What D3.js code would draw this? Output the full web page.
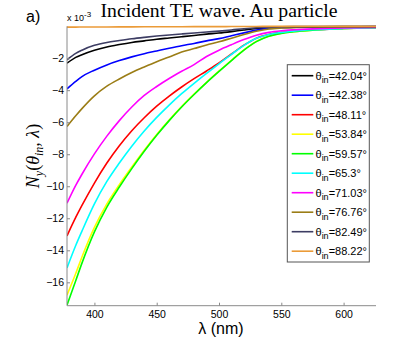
<!DOCTYPE html>
<html>
<head>
<meta charset="utf-8">
<script src="https://cdn.jsdelivr.net/npm/d3@7"></script>
<style>
  html, body { margin: 0; padding: 0; background: #fff; }
  svg { display: block; }
  .tick text { font-family: "Liberation Sans", Arial, sans-serif; font-size: 10.5px; fill: #000; }
</style>
</head>
<body>
<svg id="chart" width="415" height="344"></svg>
<script>
// wavelength samples (nm)
const lambda = [378, 385, 390, 400, 410, 420, 430, 440, 450, 460, 470, 480, 490, 500, 510, 520, 530, 540, 550, 560, 575, 600, 626];

// N_y values, units of 1e-3, one array per incidence angle
const ny42_04 = [-2.31, -1.95, -1.78, -1.5, -1.3, -1.15, -1.02, -0.92, -0.82, -0.74, -0.66, -0.58, -0.5, -0.43, -0.34, -0.24, -0.15, -0.09, -0.06, -0.05, -0.04, -0.03, -0.03];
const ny42_38 = [-3.92, -3.45, -3.15, -2.75, -2.42, -2.15, -1.92, -1.72, -1.55, -1.38, -1.22, -1.08, -0.92, -0.78, -0.6, -0.42, -0.25, -0.14, -0.09, -0.07, -0.05, -0.04, -0.03];
const ny48_11 = [-13.1, -11.95, -11.2, -9.8, -8.55, -7.47, -6.53, -5.72, -5.0, -4.37, -3.8, -3.28, -2.8, -2.3, -1.74, -1.19, -0.75, -0.52, -0.39, -0.31, -0.23, -0.15, -0.1];
const ny53_84 = [-16.8, -15.45, -14.42, -12.57, -11.1, -9.9, -8.8, -7.75, -6.77, -5.87, -5.03, -4.25, -3.51, -2.81, -2.13, -1.48, -0.95, -0.62, -0.44, -0.35, -0.25, -0.15, -0.1];
const ny59_57 = [-17.42, -15.9, -14.8, -12.85, -11.3, -10.05, -8.9, -7.82, -6.82, -5.9, -5.05, -4.27, -3.53, -2.83, -2.15, -1.5, -0.97, -0.63, -0.45, -0.35, -0.25, -0.15, -0.1];
const ny65_30 = [-15.1, -13.7, -12.8, -11.1, -9.7, -8.55, -7.5, -6.55, -5.7, -4.93, -4.22, -3.57, -2.95, -2.35, -1.76, -1.2, -0.76, -0.52, -0.39, -0.31, -0.23, -0.15, -0.1];
const ny71_03 = [-11.06, -9.95, -9.25, -7.98, -6.87, -5.9, -5.05, -4.33, -3.77, -3.27, -2.82, -2.4, -1.9, -1.5, -1.16, -0.84, -0.57, -0.39, -0.29, -0.23, -0.17, -0.11, -0.08];
const ny76_76 = [-6.27, -5.6, -5.15, -4.35, -3.75, -3.3, -2.9, -2.55, -2.22, -1.93, -1.62, -1.4, -1.18, -0.98, -0.75, -0.52, -0.32, -0.18, -0.12, -0.09, -0.07, -0.05, -0.04];
const ny82_49 = [-2.1, -1.7, -1.5, -1.2, -1.02, -0.9, -0.79, -0.7, -0.62, -0.55, -0.49, -0.43, -0.37, -0.31, -0.24, -0.16, -0.1, -0.06, -0.04, -0.03, -0.03, -0.02, -0.02];
const ny88_22 = [-0.06, -0.06, -0.055, -0.05, -0.05, -0.045, -0.045, -0.04, -0.04, -0.035, -0.035, -0.03, -0.03, -0.03, -0.025, -0.02, -0.02, -0.015, -0.015, -0.01, -0.01, -0.01, -0.01];

const angleLabels = ["42.04", "42.38", "48.11", "53.84", "59.57", "65.3", "71.03", "76.76", "82.49", "88.22"];
const seriesValues = [ny42_04, ny42_38, ny48_11, ny53_84, ny59_57, ny65_30, ny71_03, ny76_76, ny82_49, ny88_22];
const seriesColors = ["#000000", "#0000ff", "#ff0000", "#ffff00", "#00ff00", "#00ffff", "#ff00ff", "#9b7d16", "#3d3d63", "#eb9b38"];

const xTicks = [400, 450, 500, 550, 600];
const yTicks = [-16, -14, -12, -10, -8, -6, -4, -2];

const svg = d3.select("#chart");
const plotLeft = 67, plotTop = 26.3, plotRight = 376, plotBottom = 305.7;
const axisColor = "#8a8a8a";

const x = d3.scaleLinear().domain([378, 626]).range([plotLeft, plotRight]);
const y = d3.scaleLinear().domain([-17.46, -0.01]).range([plotBottom, plotTop]);

svg.append("defs").append("clipPath").attr("id", "plotclip")
  .append("rect").attr("x", plotLeft).attr("y", plotTop - 2)
  .attr("width", plotRight - plotLeft).attr("height", plotBottom - plotTop + 2);

// curves
const line = d3.line()
  .x((d, i) => x(lambda[i]))
  .y((d) => y(d))
  .curve(d3.curveMonotoneX);

const curves = svg.append("g").attr("clip-path", "url(#plotclip)");
seriesValues.forEach((vals, k) => {
  curves.append("path")
    .attr("d", line(vals))
    .attr("fill", "none")
    .attr("stroke", seriesColors[k])
    .attr("stroke-width", 1.6);
});

// axes (box off, inward ticks)
const xAxis = svg.append("g")
  .attr("transform", `translate(0,${plotBottom})`)
  .call(d3.axisBottom(x).tickValues(xTicks).tickSizeInner(-3).tickSizeOuter(0).tickPadding(5));
const yAxis = svg.append("g")
  .attr("transform", `translate(${plotLeft},0)`)
  .call(d3.axisLeft(y).tickValues(yTicks).tickSizeInner(-3).tickSizeOuter(0).tickPadding(3)
    .tickFormat((d) => "\u2212" + Math.abs(d)));
[xAxis, yAxis].forEach((g) => {
  g.select(".domain").attr("stroke", axisColor);
  g.selectAll(".tick line").attr("stroke", axisColor);
});
xAxis.select(".domain").attr("d", `M${plotLeft},0H${plotRight}`);
yAxis.select(".domain").attr("d", `M0,${plotTop}V${plotBottom}`);

// exponent label
const expo = svg.append("text")
  .attr("x", 67).attr("y", 21)
  .style("font-family", "Liberation Sans, Arial, sans-serif")
  .style("font-size", "9px");
expo.append("tspan").text("x 10");
expo.append("tspan").attr("dy", -4).style("font-size", "8px").text("-3");

// title
svg.append("text")
  .attr("x", 219).attr("y", 17)
  .attr("text-anchor", "middle")
  .attr("textLength", 237).attr("lengthAdjust", "spacingAndGlyphs")
  .style("font-family", "Liberation Serif, 'DejaVu Serif', serif")
  .style("font-size", "18px")
  .text("Incident TE wave. Au particle");

svg.append("text")
  .attr("x", 26).attr("y", 22)
  .style("font-family", "Liberation Sans, Arial, sans-serif")
  .style("font-size", "16px")
  .text("a)");

// x label
svg.append("text")
  .attr("x", 221).attr("y", 334)
  .attr("text-anchor", "middle")
  .style("font-family", "Liberation Sans, Arial, sans-serif")
  .style("font-size", "16px")
  .text("\u03bb (nm)");

// y label
const yl = svg.append("text")
  .attr("transform", "translate(39,156) rotate(-90)")
  .attr("text-anchor", "middle")
  .style("font-family", "Liberation Serif, 'DejaVu Serif', serif")
  .style("font-style", "italic")
  .style("font-size", "18px");
yl.append("tspan").text("N");
yl.append("tspan").attr("dy", 4).style("font-size", "12px").text("y");
yl.append("tspan").attr("dy", -4).style("font-style", "normal").text("(");
yl.append("tspan").text("\u03b8");
yl.append("tspan").attr("dy", 4).style("font-size", "12px").text("in");
yl.append("tspan").attr("dy", -4).text(", \u03bb");
yl.append("tspan").style("font-style", "normal").text(")");

// legend
const legX = 287.3, legY = 64.7, legW = 82, legH = 197.3, rowGap = 19.5;
const leg = svg.append("g");
leg.append("rect")
  .attr("x", legX).attr("y", legY).attr("width", legW).attr("height", legH)
  .attr("fill", "#fff").attr("stroke", "#555").attr("stroke-width", 1);
angleLabels.forEach((lab, k) => {
  const ry = 75.7 + k * rowGap;
  leg.append("line")
    .attr("x1", 291.7).attr("x2", 313.3).attr("y1", ry).attr("y2", ry)
    .attr("stroke", seriesColors[k]).attr("stroke-width", 1.6);
  const t = leg.append("text")
    .attr("x", 315.5).attr("y", ry + 4)
    .style("font-family", "Liberation Sans, Arial, sans-serif")
    .style("font-size", "11px");
  t.append("tspan").text("\u03b8");
  t.append("tspan").attr("dy", 3.5).style("font-size", "9px").text("in");
  t.append("tspan").attr("dy", -3.5).text("=" + lab + "\u00b0");
});
</script>
</body>
</html>
